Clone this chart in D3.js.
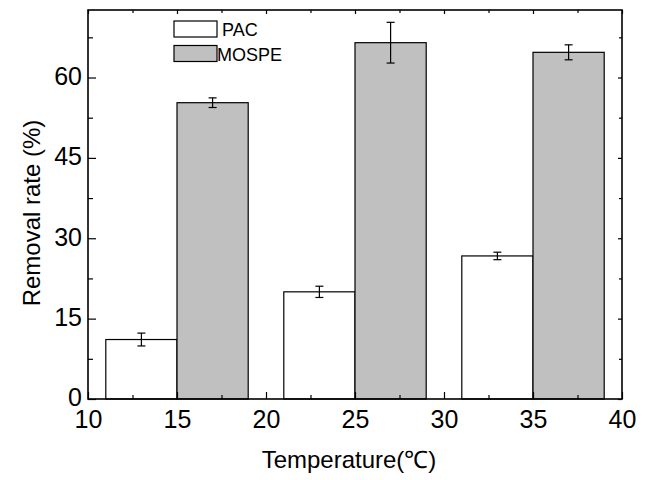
<!DOCTYPE html>
<html>
<head>
<meta charset="utf-8">
<script src="https://cdn.jsdelivr.net/npm/d3@7"></script>
<style>
  body { margin: 0; background: #fff; }
  text { font-family: "Liberation Sans", Arial, sans-serif; fill: #000; }
</style>
</head>
<body>
<svg id="chart" width="646" height="480"></svg>
<script>
// data
const temperatures = [15, 25, 35];
const seriesNames = ["PAC", "MOSPE"];
const pacValues = [11.1, 20.0, 26.7];
const pacErrors = [1.2, 1.05, 0.7];
const mospeValues = [55.3, 66.5, 64.7];
const mospeErrors = [0.9, 3.8, 1.4];
const xTicks = [10, 15, 20, 25, 30, 35, 40];
const yTicks = [0, 15, 30, 45, 60];

const margin = { left: 88, right: 24, top: 10, bottom: 81 };
const width = 646, height = 480;

const svg = d3.select("#chart");

const x = d3.scaleLinear().domain([10, 40]).range([margin.left, width - margin.right]);
const y = d3.scaleLinear().domain([0, 72.6]).range([height - margin.bottom, margin.top]);

const barW = 4; // in x units

const bars = [];
temperatures.forEach((t, i) => {
    bars.push({ x0: t - barW, value: pacValues[i], err: pacErrors[i], fill: "#ffffff" });
    bars.push({ x0: t, value: mospeValues[i], err: mospeErrors[i], fill: "#c0c0c0" });
});

svg.selectAll("rect.bar")
    .data(bars)
    .enter()
    .append("rect")
    .attr("class", "bar")
    .attr("x", d => x(d.x0))
    .attr("width", d => x(d.x0 + barW) - x(d.x0))
    .attr("y", d => y(d.value))
    .attr("height", d => y(0) - y(d.value))
    .attr("fill", d => d.fill)
    .attr("stroke", "#000")
    .attr("stroke-width", 1.2);

// error bars
const errG = svg.selectAll("g.err")
    .data(bars)
    .enter()
    .append("g")
    .attr("class", "err")
    .attr("stroke", "#000")
    .attr("stroke-width", 1.2);

errG.append("line")
    .attr("x1", d => x(d.x0 + barW / 2))
    .attr("x2", d => x(d.x0 + barW / 2))
    .attr("y1", d => y(d.value + d.err))
    .attr("y2", d => y(d.value - d.err));
errG.append("line")
    .attr("x1", d => x(d.x0 + barW / 2) - 4)
    .attr("x2", d => x(d.x0 + barW / 2) + 4)
    .attr("y1", d => y(d.value + d.err))
    .attr("y2", d => y(d.value + d.err));
errG.append("line")
    .attr("x1", d => x(d.x0 + barW / 2) - 4)
    .attr("x2", d => x(d.x0 + barW / 2) + 4)
    .attr("y1", d => y(d.value - d.err))
    .attr("y2", d => y(d.value - d.err));

// axes: ticks point inward, minor ticks between majors
const xMinor = d3.range(12.5, 40, 5);
const yMinor = d3.range(7.5, 72, 15);

function styleAxis(g) {
    g.select(".domain").remove();
    g.selectAll("line").attr("stroke", "#000").attr("stroke-width", 1.2);
    g.selectAll("text").style("font-size", "25px");
}

svg.append("g")
    .attr("transform", `translate(0,${y(0)})`)
    .call(d3.axisBottom(x).tickValues(xTicks).tickSize(-7).tickPadding(11).tickFormat(d3.format("d")))
    .call(styleAxis);
svg.append("g")
    .attr("transform", `translate(0,${y(0)})`)
    .call(d3.axisBottom(x).tickValues(xMinor).tickSize(-4).tickFormat(""))
    .call(styleAxis);

svg.append("g")
    .attr("transform", `translate(${x(10)},0)`)
    .call(d3.axisLeft(y).tickValues(yTicks).tickSize(-8).tickPadding(6).tickFormat(d3.format("d")))
    .call(styleAxis)
    .call(g => g.selectAll("text").attr("dy", "0.27em"));
svg.append("g")
    .attr("transform", `translate(${x(10)},0)`)
    .call(d3.axisLeft(y).tickValues(yMinor).tickSize(-5).tickFormat(""))
    .call(styleAxis);

// top and right axes without labels
svg.append("g")
    .attr("transform", `translate(0,${margin.top})`)
    .call(d3.axisTop(x).tickValues(xTicks).tickSize(-4).tickFormat(""))
    .call(styleAxis);
svg.append("g")
    .attr("transform", `translate(0,${margin.top})`)
    .call(d3.axisTop(x).tickValues(xMinor).tickSize(-3).tickFormat(""))
    .call(styleAxis);
svg.append("g")
    .attr("transform", `translate(${x(40)},0)`)
    .call(d3.axisRight(y).tickValues(yTicks).tickSize(-4).tickFormat(""))
    .call(styleAxis);
svg.append("g")
    .attr("transform", `translate(${x(40)},0)`)
    .call(d3.axisRight(y).tickValues(yMinor).tickSize(-3).tickFormat(""))
    .call(styleAxis);

// frame
svg.append("rect")
    .attr("x", x(10))
    .attr("y", y.range()[1])
    .attr("width", x(40) - x(10))
    .attr("height", y(0) - y.range()[1])
    .attr("fill", "none")
    .attr("stroke", "#000")
    .attr("stroke-width", 1.6);

// axis titles
svg.append("text")
    .attr("x", 349)
    .attr("y", 468)
    .attr("text-anchor", "middle")
    .style("font-size", "24px")
    .text("Temperature(\u2103)");

svg.append("text")
    .attr("transform", "translate(40,213) rotate(-90)")
    .attr("text-anchor", "middle")
    .style("font-size", "24px")
    .text("Removal rate (%)");

// legend
const legendFills = ["#ffffff", "#c0c0c0"];
const legend = svg.selectAll("g.legend")
    .data(seriesNames)
    .enter()
    .append("g")
    .attr("class", "legend")
    .attr("transform", (d, i) => `translate(174,${21 + i * 24.5})`);

legend.append("rect")
    .attr("width", 43)
    .attr("height", 16)
    .attr("fill", (d, i) => legendFills[i])
    .attr("stroke", "#000")
    .attr("stroke-width", 1.2);

legend.append("text")
    .attr("x", (d, i) => i === 0 ? 48 : 43)
    .attr("y", 15)
    .style("font-size", "18px")
    .text(d => d);
</script>
</body>
</html>
